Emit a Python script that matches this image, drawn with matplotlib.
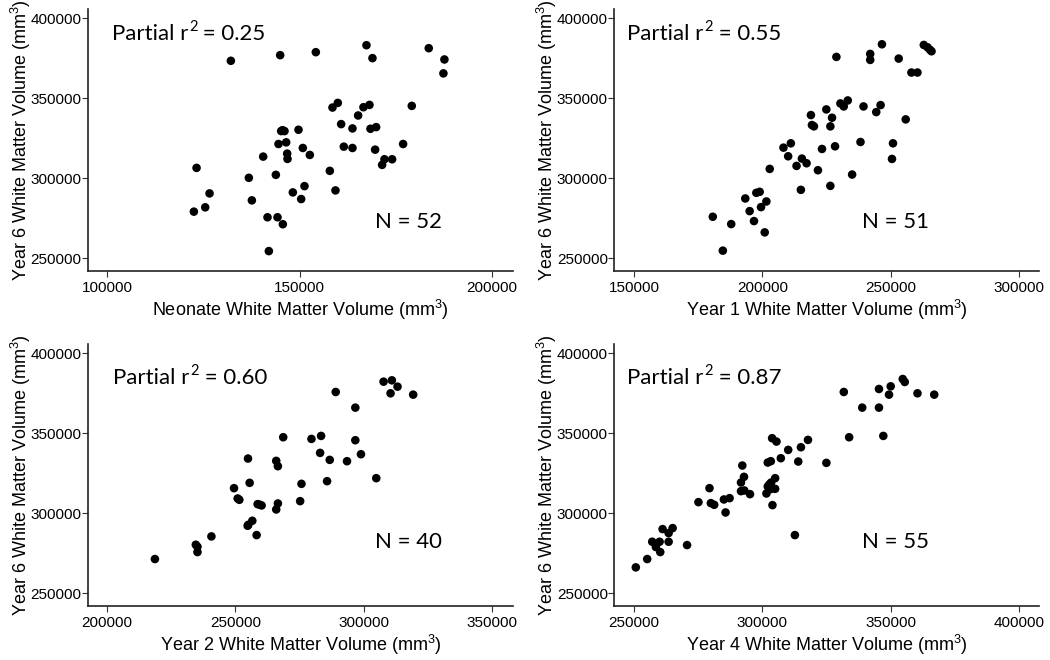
import matplotlib
matplotlib.use('Agg')
import matplotlib.pyplot as plt

plt.rcParams['font.family'] = ['Liberation Sans', 'DejaVu Sans']
plt.rcParams['mathtext.fontset'] = 'custom'
plt.rcParams['mathtext.rm'] = 'Liberation Sans'
plt.rcParams['mathtext.it'] = 'Liberation Sans'

# Year 6 white matter volume against earlier time points (mm^3)
neonate_x = [132178, 144980, 154236, 167384, 168941, 183559, 187625, 187365, 179148, 158561,
             159945, 166605, 168162, 165221, 160810, 163750, 168421, 169892, 145240, 146105,
             149738, 144548, 146537, 150862, 161502, 163750, 169633, 176899, 146797, 146883,
             152679, 140569, 172055, 174044, 171449, 123269, 157869, 136849, 143856, 151295,
             148267, 159339, 126642, 137628, 150430, 125518, 122577, 141693, 144288, 145672,
             142039, 145600]
neonate_y = [373440, 376968, 378835, 383193, 375100, 381325, 374270, 365555, 345220, 344180,
             347090, 344390, 345840, 339200, 333810, 331110, 330900, 331940, 329450, 329450,
             330280, 321360, 322400, 318870, 319700, 318870, 317830, 321360, 315340, 312020,
             314510, 313470, 311810, 311810, 308290, 306420, 304550, 300190, 302060, 295005,
             291060, 292310, 290440, 286080, 286910, 281725, 279025, 275500, 275500, 271140,
             254330, 330000]

year1_x = [180668, 184583, 187845, 193326, 195023, 196719, 197633, 198938, 199460, 201548,
           200895, 202853, 208203, 211074, 210030, 213293, 215381, 217208, 214989, 221645,
           223211, 226473, 228300, 218904, 219296, 220079, 224907, 227126, 226473, 230388,
           231693, 233259, 234956, 238218, 239393, 244352, 246049, 250877, 250486, 255836,
           228822, 242003, 242003, 246571, 253096, 258055, 260404, 262884, 264319, 265885,
           265233]
year1_y = [275824, 254608, 271248, 287264, 279360, 273120, 290800, 291424, 281856, 285392,
           266048, 305776, 319088, 321792, 313680, 307648, 312224, 309312, 292672, 304944,
           318256, 295168, 319920, 339472, 333232, 332400, 343008, 337808, 332400, 346752,
           344880, 348624, 302240, 322624, 344880, 341344, 345712, 321792, 312016, 336768,
           375872, 377744, 374000, 383776, 374832, 366096, 366096, 383360, 381904, 379408,
           380448]

year2_x = [218661, 234590, 235237, 235237, 240676, 249482, 250907, 251554, 254921, 255569,
           254792, 255051, 256605, 258289, 258677, 260231, 265929, 266576, 266576, 265929,
           268648, 275253, 275771, 279656, 283411, 283023, 286778, 285742, 289109, 293512,
           296750, 296750, 298951, 304908, 307757, 310995, 313196, 310476, 319282, 259500]
year2_y = [271271, 280227, 278977, 275645, 285435, 315637, 309180, 308347, 334177, 318970,
           292100, 292725, 295225, 286268, 305640, 304807, 332719, 329386, 306057, 302307,
           347508, 307514, 318345, 346467, 348341, 337718, 333344, 320013, 375837, 332511,
           366047, 345634, 336885, 321888, 382295, 383128, 379170, 375004, 374171, 305300]

year4_x = [250671, 255108, 257066, 259938, 258502, 260198, 261112, 263461, 263461, 265027,
           270638, 275076, 279382, 279904, 281209, 284994, 287212, 285646, 292171, 292824,
           291649, 291649, 292954, 295172, 301566, 302088, 303263, 302088, 303393, 304959,
           304959, 303132, 303915, 303785, 305481, 307178, 310049, 313964, 315008, 317748,
           312659, 324926, 331712, 333800, 338889, 345414, 345414, 347111, 349329, 349982,
           354680, 355463, 360422, 366947, 302700]
year4_y = [266063, 271271, 282103, 282103, 278770, 275645, 290018, 287518, 282103, 290643,
           280019, 306890, 315637, 306265, 305224, 308557, 309390, 300433, 329803, 322721,
           319179, 313763, 314180, 311889, 312305, 331678, 332511, 316679, 319179, 321888,
           315221, 315013, 305015, 346883, 344800, 334386, 339593, 332302, 341260, 345842,
           286268, 331470, 375837, 347508, 366047, 377712, 366047, 348341, 374171, 379378,
           383961, 382087, 375004, 374171, 318000]

x_labels = ['Neonate White Matter Volume (mm$^3$)', 'Year 1 White Matter Volume (mm$^3$)',
            'Year 2 White Matter Volume (mm$^3$)', 'Year 4 White Matter Volume (mm$^3$)']
y_label = 'Year 6 White Matter Volume (mm$^3$)'
partial_r2 = ['0.25', '0.55', '0.60', '0.87']
n_values = [52, 51, 40, 55]
x_ticks = [[100000, 150000, 200000],
           [150000, 200000, 250000, 300000],
           [200000, 250000, 300000, 350000],
           [250000, 300000, 350000, 400000]]
y_ticks = [250000, 300000, 350000, 400000]

xs = [neonate_x, year1_x, year2_x, year4_x]
ys = [neonate_y, year1_y, year2_y, year4_y]
xlims = [(95080, 205440), (142190, 307800), (192580, 358200), (242190, 407800)]

fig = plt.figure(figsize=(10.5, 6.6), dpi=100)
lefts = [0.0838, 0.5848, 0.0838, 0.5848]
bottoms = [0.5897, 0.5897, 0.0821, 0.0821]
text_x = [0.056, 0.031, 0.059, 0.031]
n_x = [0.675, 0.584, 0.675, 0.584]
r2_y = [0.881, 0.881, 0.847, 0.847]
n_y = [0.163, 0.163, 0.221, 0.221]
note_font = ['Lato', 'DejaVu Sans']

for i in range(4):
    ax = fig.add_axes([lefts[i], bottoms[i], 0.4048, 0.397])
    ax.scatter(xs[i], ys[i], s=38, color='black', edgecolors='none')
    ax.set_xlim(*xlims[i])
    ax.set_ylim(242000, 406000)
    ax.set_xticks(x_ticks[i])
    ax.set_yticks(y_ticks)
    ax.tick_params(labelsize=11, length=4, width=0.8, color='#333333')
    ax.tick_params(axis='y', pad=0.5)
    ax.tick_params(axis='x', pad=3)
    for side in ['top', 'right']:
        ax.spines[side].set_visible(False)
    for side in ['left', 'bottom']:
        ax.spines[side].set_linewidth(1.2)
        ax.spines[side].set_color('#222222')
    ax.set_xlabel(x_labels[i], fontsize=13)
    ax.xaxis.set_label_coords(0.5, -0.105)
    ax.set_ylabel(y_label, fontsize=13)
    ax.yaxis.set_label_coords(-0.13, 0.5)

    # "Partial r" + raised "2" + " = value"
    t1 = ax.text(text_x[i], r2_y[i], 'Partial r', transform=ax.transAxes,
                 fontsize=16, family=note_font, va='baseline')
    t2 = ax.annotate('2', xy=(1, 1), xycoords=t1, xytext=(0.5, 2.5),
                     textcoords='offset points', fontsize=10.5, family=note_font,
                     ha='left', va='top')
    ax.annotate(' = ' + partial_r2[i], xy=(1, 0), xycoords=(t2, t1),
                fontsize=16, family=note_font, ha='left', va='bottom')
    ax.text(n_x[i], n_y[i], 'N = %d' % n_values[i], transform=ax.transAxes,
            fontsize=16, family=note_font, va='baseline')

fig.savefig('out.png', dpi=100)
